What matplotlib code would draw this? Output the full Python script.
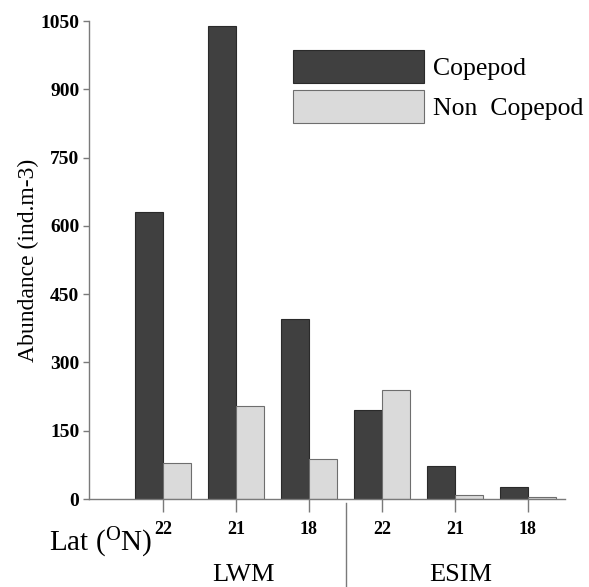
import matplotlib
matplotlib.use("Agg")
import matplotlib.pyplot as plt
import matplotlib.transforms as mtransforms
import numpy as np

plt.rcParams['font.family'] = ['Liberation Serif', 'DejaVu Serif']
plt.rcParams['mathtext.fontset'] = 'custom'
plt.rcParams['mathtext.rm'] = 'Liberation Serif'

lat_labels = ["22", "21", "18", "22", "21", "18"]
groups = ["LWM", "ESIM"]
copepod = [630, 1040, 395, 195, 73, 26]
non_copepod = [80, 205, 88, 239, 8, 4]
yticks = [0, 150, 300, 450, 600, 750, 900, 1050]

W, H = 589, 587
fig = plt.figure(figsize=(W / 100, H / 100), dpi=100)
ax = fig.add_axes([89 / W, 1 - 499 / H, (565 - 89) / W, (499 - 21) / H])

x = np.arange(len(lat_labels))
bw = 0.38
spine_c = "#7a7a7a"
b1 = ax.bar(x - bw / 2, copepod, bw, color="#404040", edgecolor="#2a2a2a", linewidth=0.8, label="Copepod")
b2 = ax.bar(x + bw / 2, non_copepod, bw, color="#dadada", edgecolor="#6e6e6e", linewidth=0.8, label="Non  Copepod")

ax.set_xlim(-1.014, 5.507)
ax.set_ylim(0, 1050)
ax.set_yticks(yticks)
ax.set_yticklabels([str(v) for v in yticks], fontsize=14, fontweight="bold")
ax.set_xticks(x)
ax.set_xticklabels(lat_labels, fontsize=13, fontweight="bold")
ax.tick_params(axis="x", direction="out", length=9, width=1, color=spine_c, pad=7)
ax.tick_params(axis="y", direction="out", length=4, width=1, color=spine_c, pad=3)
for s in ["top", "right"]:
    ax.spines[s].set_visible(False)
for s in ["left", "bottom"]:
    ax.spines[s].set_color(spine_c)
    ax.spines[s].set_linewidth(1)

ax.set_ylabel("Abundance (ind.m-3)", fontsize=17, labelpad=1)

# separator between groups
trans = mtransforms.blended_transform_factory(ax.transData, fig.transFigure)
ax.plot([2.5, 2.5], [1 - 503 / H, 0], color=spine_c, lw=1, transform=trans, clip_on=False)

# group labels
fig.text(243 / W, 1 - 575 / H, groups[0], fontsize=19, ha="center", va="center")
fig.text(461 / W, 1 - 575 / H, groups[1], fontsize=19, ha="center", va="center")

# axis title
fig.text(49 / W, 1 - 543 / H, r"Lat ($\mathregular{^{O}}$N)", fontsize=21, ha="left", va="center")

leg = ax.legend(handles=[b1, b2], loc="upper left",
                bbox_to_anchor=(293 / W, 1 - 50 / H), bbox_transform=fig.transFigure,
                frameon=False, fontsize=18.5, handlelength=5.1, handleheight=1.6,
                handletextpad=0.35, labelspacing=0.28, borderpad=0, borderaxespad=0)

fig.savefig("out.png", dpi=100)
